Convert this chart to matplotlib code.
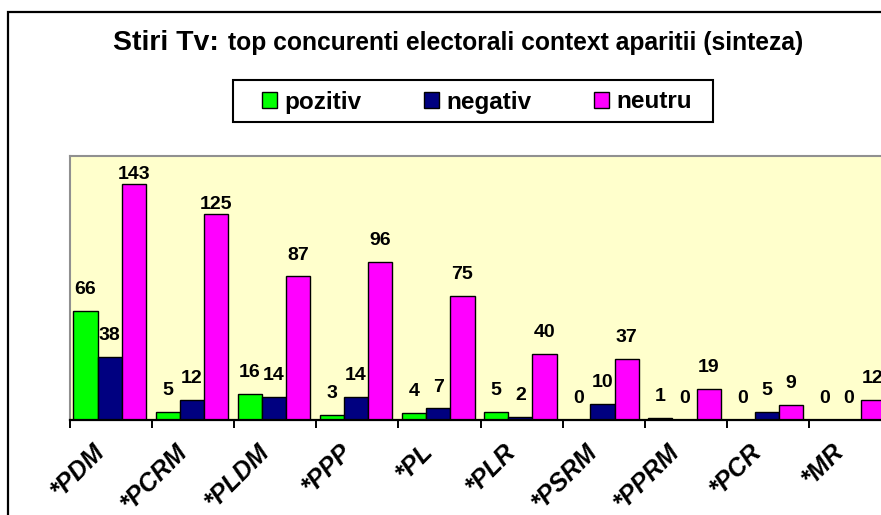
import matplotlib
matplotlib.use("Agg")
import matplotlib.pyplot as plt
import numpy as np
from matplotlib.patches import Rectangle

plt.rcParams['font.family'] = ['Liberation Sans', 'DejaVu Sans']

# ---- data ----
categories = ["*PDM", "*PCRM", "*PLDM", "*PPP", "*PL", "*PLR", "*PSRM", "*PPRM", "*PCR", "*MR"]
pozitiv = [66, 5, 16, 3, 4, 5, 0, 1, 0, 0]
negativ = [38, 12, 14, 14, 7, 2, 10, 0, 5, 0]
neutru = [143, 125, 87, 96, 75, 40, 37, 19, 9, 12]
series_names = ["pozitiv", "negativ", "neutru"]
series_colors = ["#00FF00", "#000080", "#FF00FF"]

W, H = 881, 515
fig = plt.figure(figsize=(W / 100, H / 100), dpi=100)
fig.patch.set_facecolor("white")

# outer chart border (extends beyond the visible image on right/bottom)
fig.add_artist(Rectangle((8 / W, -0.2), 1.2, 1 - 12 / H + 0.2, transform=fig.transFigure,
                         fill=False, edgecolor="black", linewidth=1.6, clip_on=False))

ax = fig.add_axes([70 / W, 95 / H, 821 / W, 264 / H])
ax.set_facecolor("#FFFFCC")

x = np.arange(len(categories))
bw = 0.295
all_series = [pozitiv, negativ, neutru]
containers = []
for i, (vals, name, col) in enumerate(zip(all_series, series_names, series_colors)):
    pos = x + (i - 1) * bw - 0.015
    bc = ax.bar(pos, vals, width=bw, color=col, edgecolor="black", linewidth=1.0,
                label=name, zorder=3)
    containers.append(bc)
    for px, v in zip(pos, vals):
        off = 3.5 if v >= 100 else 12.2
        ax.annotate(str(v), xy=(px, v), xytext=(0, off), textcoords="offset points",
                    ha="center", va="baseline", fontsize=14, fontweight="bold",
                    color="black", zorder=4, annotation_clip=False)

ax.set_xlim(-0.5, len(categories) - 0.5)
ax.set_ylim(0, 160)
ax.set_yticks([])

for s in ["top", "left", "right"]:
    ax.spines[s].set_color("#909090")
    ax.spines[s].set_linewidth(1.5)
ax.spines["bottom"].set_color("black")
ax.spines["bottom"].set_linewidth(1.6)
ax.spines["bottom"].set_zorder(5)

# category labels: anchored left of each category centre
ax.set_xticks(x - 0.22)
ax.set_xticklabels(categories, rotation=45, ha="right", rotation_mode="anchor",
                   fontsize=18, fontweight="bold", fontstyle="italic")
ax.set_xticks(np.arange(-0.5, len(categories) + 0.5, 1), minor=True)
ax.tick_params(axis="x", which="major", length=0, pad=14)
ax.tick_params(axis="x", which="minor", length=6, width=1.4, color="black", direction="out")

# title
fig.text(113 / W, 1 - 50 / H, "Stiri Tv:", fontsize=20.5, fontweight="bold",
         ha="left", va="baseline")
fig.text(228 / W, 1 - 50 / H, "top concurenti electorali context aparitii (sinteza)",
         fontsize=17.7, fontweight="bold", ha="left", va="baseline")

# legend box
fig.add_artist(Rectangle((233 / W, 1 - 122 / H), 480 / W, 42 / H, transform=fig.transFigure,
                         fill=True, facecolor="white", edgecolor="black", linewidth=1.5))
leg = fig.legend(handles=containers, labels=series_names, loc="center",
                 bbox_to_anchor=(477 / W, 1 - 102 / H), ncol=3, frameon=False,
                 prop={"size": 17.5, "weight": "bold"}, handlelength=0.6, handleheight=0.6,
                 handletextpad=0.3, columnspacing=2.6, borderpad=0.2)

fig.savefig("out.png", dpi=100)
